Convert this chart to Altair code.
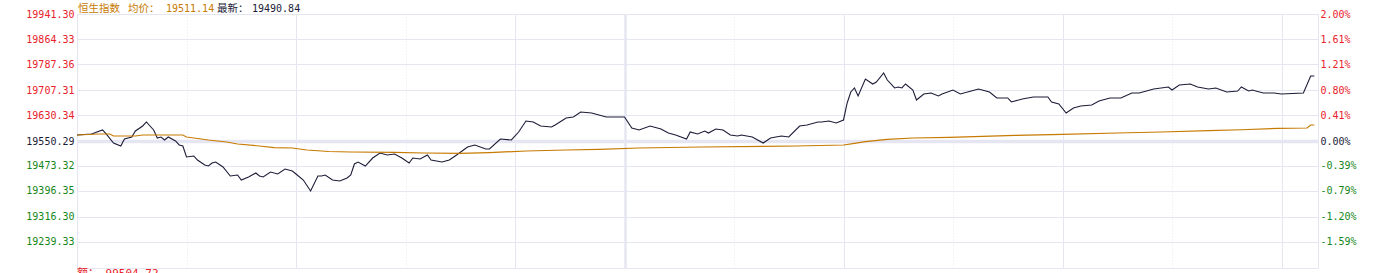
import altair as alt
import pandas as pd

# ---------------- data ----------------
prev_close = 19550.29
avg_price = 19511.14
last_price = 19490.84
index_name = "恒生指数"
avg_label = "均价："
last_label = "最新："
turnover_text = "额： 99504.72"

# minutes since 9:30 (lunch break collapsed, 13:00 == 150, 16:10 == 340)
price_minutes = [0, 4, 7, 8, 10, 12, 13, 15, 16, 18, 19, 21, 22, 23, 24, 25, 27, 28, 29, 30,
                 32, 33, 35, 36, 37, 38, 40, 42, 44, 45, 47, 49, 50, 51, 53, 55, 57, 59, 60, 62,
                 64, 66, 67, 68, 70, 72, 74, 75, 76, 77, 79, 81, 83, 85, 87, 89, 91, 92, 94, 96,
                 97, 100, 102, 104, 107, 109, 112, 113, 116, 119, 121, 123, 125, 127, 130, 131, 134, 136, 138, 141,
                 143, 145, 150, 152, 154, 157, 160, 162, 164, 167, 168, 170, 172, 173, 175, 177, 179, 181, 182, 185,
                 188, 190, 193, 195, 198, 200, 203, 204, 206, 208, 210, 211, 212, 213, 214, 216, 218, 219, 221, 222,
                 224, 225, 226, 227, 229, 230, 232, 234, 236, 237, 240, 242, 245, 247, 250, 252, 255, 256, 259, 262,
                 266, 267, 269, 271, 273, 275, 278, 280, 283, 286, 289, 291, 293, 295, 299, 300, 302, 305, 307, 310,
                 312, 315, 318, 319, 321, 322, 325, 328, 330, 336, 338, 339]
price_values = [19568.8, 19571.9, 19584.2, 19571.9, 19544.1, 19534.9, 19556.5, 19562.6, 19581.1, 19596.5,
                19608.8, 19584.2, 19559.5, 19562.6, 19553.4, 19562.6, 19550.3, 19538.0, 19535.0, 19501.0,
                19504.1, 19491.8, 19476.4, 19473.3, 19482.6, 19485.6, 19470.2, 19442.5, 19445.6, 19430.2,
                19439.5, 19451.8, 19442.5, 19439.5, 19454.9, 19448.7, 19464.1, 19457.9, 19448.7, 19430.2,
                19396.4, 19442.5, 19442.5, 19445.6, 19430.2, 19427.1, 19436.4, 19445.6, 19479.5, 19485.6,
                19473.3, 19497.9, 19513.3, 19507.2, 19510.3, 19497.9, 19482.6, 19497.9, 19494.9, 19507.2,
                19491.8, 19485.6, 19491.8, 19507.2, 19531.8, 19538.0, 19525.7, 19525.7, 19556.5, 19553.4,
                19578.0, 19611.9, 19608.8, 19596.5, 19593.4, 19599.6, 19621.1, 19624.2, 19639.6, 19636.5,
                19630.4, 19624.2, 19624.2, 19590.3, 19584.2, 19596.5, 19587.2, 19574.9, 19568.8, 19556.5,
                19578.0, 19571.9, 19581.1, 19574.9, 19587.2, 19584.2, 19568.8, 19565.7, 19568.8, 19562.6,
                19544.1, 19559.5, 19565.7, 19562.6, 19596.5, 19599.6, 19608.8, 19608.8, 19611.9, 19605.7,
                19615.0, 19667.3, 19701.2, 19713.5, 19688.9, 19741.2, 19725.8, 19732.0, 19759.7, 19738.1,
                19713.5, 19716.6, 19713.5, 19725.8, 19707.3, 19676.5, 19695.0, 19698.1, 19688.9, 19695.0,
                19707.3, 19695.0, 19704.2, 19710.4, 19701.2, 19682.7, 19682.7, 19670.4, 19679.6, 19685.8,
                19685.8, 19670.4, 19664.2, 19636.5, 19651.9, 19658.1, 19661.1, 19673.5, 19682.7, 19682.7,
                19698.1, 19698.1, 19704.2, 19710.4, 19716.6, 19707.3, 19722.7, 19725.8, 19716.6, 19710.4,
                19713.5, 19701.2, 19704.2, 19716.6, 19704.2, 19707.3, 19698.1, 19698.1, 19695.0, 19698.1,
                19750.4, 19750.4]

avg_minutes = [0, 6, 9, 10, 16, 18, 29, 30, 34, 36, 41, 44, 50, 54, 59, 63, 69, 75, 87, 95,
               105, 113, 123, 134, 143, 154, 171, 197, 210, 213, 216, 222, 229, 239, 257, 270, 285, 297, 310, 319,
               329, 337, 338, 339]
avg_values = [19568.8, 19571.9, 19571.9, 19565.7, 19565.7, 19568.8, 19568.8, 19562.6, 19556.5, 19553.4,
              19547.2, 19541.1, 19534.9, 19530.0, 19528.7, 19522.6, 19518.0, 19516.4, 19515.0, 19513.3,
              19512.3, 19514.5, 19519.5, 19522.6, 19524.8, 19528.7, 19531.8, 19534.9, 19538.0, 19543.2,
              19548.1, 19555.2, 19559.5, 19561.5, 19567.5, 19570.6, 19574.9, 19578.0, 19582.0, 19585.0,
              19589.4, 19590.3, 19599.6, 19599.6]

tick_prices = [19941.30, 19864.33, 19787.36, 19707.31, 19630.34, 19550.29,
               19473.32, 19396.35, 19316.30, 19239.33]
grid_minutes = [30, 60, 90, 120, 150, 180, 210, 240, 270, 300, 330]
dotted_minutes = [30, 90, 180, 240, 300]
lunch_minute = 150
session_end = 340

# ---------------- styling ----------------
RED = "#e8212a"
GREEN = "#17871b"
DARK = "#1c1c38"
ORANGE = "#c77a00"
GRID = "#e6e6f2"
MONO = "DejaVu Sans Mono"
CJK = "Noto Sans CJK SC"
MIXED = "DejaVu Sans Mono, Noto Sans CJK SC"

price_df = pd.DataFrame({"m": price_minutes, "p": price_values})
avg_df = pd.DataFrame({"m": avg_minutes, "p": avg_values})

y_top = max(tick_prices)
y_dom = [round(2 * prev_close - y_top, 2) - 0.01, y_top + 0.01]
x_scale = alt.Scale(domain=[0, session_end], nice=False, zero=False)
y_scale = alt.Scale(domain=y_dom, nice=False, zero=False)

dotted_list = ",".join(str(v) for v in dotted_minutes)
x_axis = alt.Axis(
    values=grid_minutes, labels=False, ticks=False, domain=False, title=None,
    grid=True, gridColor=GRID,
    gridDash={"condition": {"test": f"indexof([{dotted_list}], datum.value) >= 0", "value": [1, 2]}, "value": []},
    gridWidth={"condition": {"test": f"datum.value == {lunch_minute}", "value": 2.5}, "value": 1},
)

label_color = {
    "condition": [
        {"test": f"datum.value > {prev_close} + 0.01", "value": RED},
        {"test": f"datum.value < {prev_close} - 0.01", "value": GREEN},
    ],
    "value": DARK,
}

y_left = alt.Axis(
    values=tick_prices, format=".2f", title=None, domain=False, ticks=False,
    labelFont=MONO, labelFontSize=10, labelPadding=3, labelColor=label_color,
    labelOverlap=False, labelBound=False, labelFlush=False,
    grid=True, gridColor=GRID,
    gridWidth={"condition": {"test": f"abs(datum.value - {prev_close}) < 0.01", "value": 3.5}, "value": 1},
)
y_right = alt.Axis(
    orient="right", values=tick_prices, title=None, domain=False, ticks=False, grid=False,
    labelFont=MONO, labelFontSize=10, labelPadding=2, labelColor=label_color,
    labelOverlap=False, labelBound=False, labelFlush=False,
    labelExpr=f"replace(format((datum.value / {prev_close} - 1) * 100, '.2f'), '\u2212', '-') + '%'",
)

price_line = alt.Chart(price_df).mark_line(color=DARK, strokeWidth=1.1).encode(
    x=alt.X("m:Q", scale=x_scale, axis=x_axis),
    y=alt.Y("p:Q", scale=y_scale, axis=y_left),
)
avg_line = alt.Chart(avg_df).mark_line(color=ORANGE, strokeWidth=1.2).encode(
    x=alt.X("m:Q", scale=x_scale, axis=x_axis),
    y=alt.Y("p:Q", scale=y_scale, axis=y_right),
)


def label(text, x, font, size, color):
    return alt.Chart(pd.DataFrame({"t": [text]})).mark_text(
        align="left", baseline="alphabetic", font=font, fontSize=size, color=color
    ).encode(text="t:N", x=alt.value(x), y=alt.value(-2))


t_name = label(index_name, 1, CJK, 10.5, ORANGE)
t_avg_lbl = label(avg_label, 51, CJK, 10.5, ORANGE)
t_avg_val = label(f"{avg_price:.2f}", 89, MONO, 10, ORANGE)
t_last_lbl = label(last_label, 140, CJK, 10.5, DARK)
t_last_val = label(f"{last_price:.2f}", 175, MONO, 10, DARK)

bottom_text = alt.Chart(pd.DataFrame({"t": [turnover_text]})).mark_text(
    align="left", baseline="top", font=MIXED, fontSize=11, color=RED
).encode(text="t:N", x=alt.value(0), y=alt.value(254))

chart = alt.layer(
    price_line, avg_line, t_name, t_avg_lbl, t_avg_val, t_last_lbl, t_last_val, bottom_text
).resolve_scale(
    y="independent"
).properties(
    width=1241, height=254,
    autosize=alt.AutoSizeParams(type="none"),
    padding={"left": 77, "top": 14, "right": 55, "bottom": 5},
    background="white",
).configure_view(stroke=GRID, strokeWidth=1)

chart.save("out.html", embed_options={"renderer": "svg", "actions": False})
